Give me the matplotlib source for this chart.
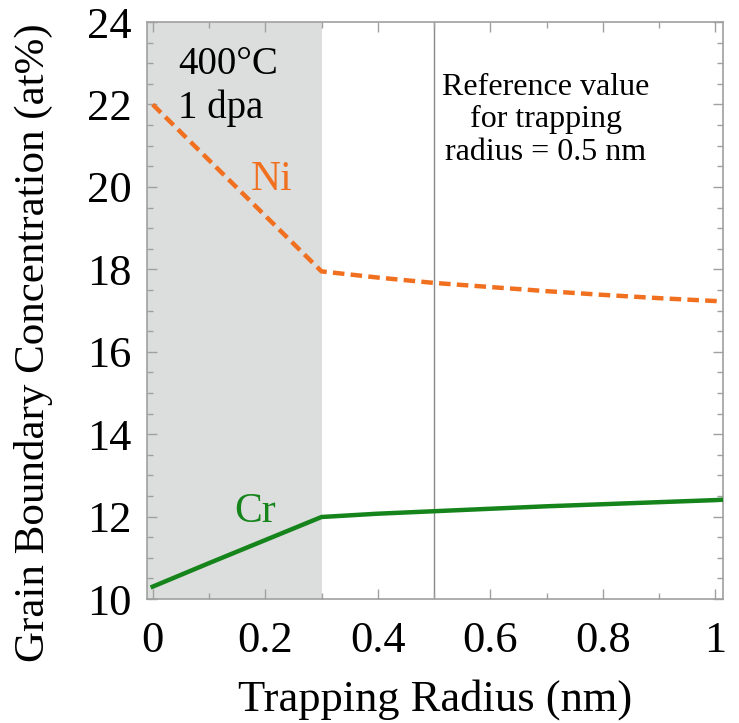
import matplotlib
matplotlib.use("Agg")
import matplotlib.pyplot as plt
from matplotlib.ticker import MultipleLocator, FuncFormatter

plt.rcParams['font.family'] = ['Liberation Serif', 'DejaVu Serif']

# trapping radius (nm) and grain boundary concentration (at%)
radius = [0.0, 0.1, 0.2, 0.3, 0.4, 0.5, 0.6, 0.7, 0.8, 0.9, 1.0, 1.013]
ni_conc = [22.0, 20.65, 19.3, 17.95, 17.8, 17.67, 17.57, 17.47, 17.38, 17.30, 17.23, 17.22]
cr_conc = [10.3, 10.87, 11.43, 11.99, 12.07, 12.13, 12.19, 12.25, 12.30, 12.35, 12.40, 12.41]

shade_end = 0.3
ref_radius = 0.5
ref_note = ['Reference value', 'for trapping', 'radius = 0.5 nm']

orange = '#f07020'
green = '#15841a'
frame = '#a0a0a0'

fig = plt.figure(figsize=(7.39, 7.23), dpi=100)
ax = fig.add_axes([0.199, 0.1715, 0.779, 0.798])

ax.axvspan(-0.02, shade_end, color='#dcdddd', lw=0, zorder=0)
ax.axvline(ref_radius, color='#888888', lw=1.0, zorder=1)

ax.plot(radius, ni_conc, color=orange, lw=3.2, dashes=(2.6, 1.4), zorder=3)
ax.plot(radius, cr_conc, color=green, lw=3.2, zorder=3)

ax.set_xlim(-0.01, 1.013)
ax.set_ylim(10, 24)

ax.xaxis.set_major_locator(MultipleLocator(0.2))
ax.xaxis.set_minor_locator(MultipleLocator(0.1))
ax.yaxis.set_major_locator(MultipleLocator(2))
ax.yaxis.set_minor_locator(MultipleLocator(0.5))
ax.xaxis.set_major_formatter(FuncFormatter(lambda v, p: f"{v:g}"))

ax.tick_params(which='both', direction='in', top=True, right=True, color=frame, width=1)
ax.tick_params(which='major', length=7, labelsize=32)
ax.tick_params(axis='y', which='major', pad=11)
ax.tick_params(axis='x', which='major', pad=16)
ax.tick_params(which='minor', length=4)
for s in ax.spines.values():
    s.set_color(frame)
    s.set_linewidth(1.2)

ax.set_xlabel('Trapping Radius (nm)', fontsize=32)
ax.xaxis.set_label_coords(0.5, -0.138)
ax.set_ylabel('Grain Boundary Concentration (at%)', fontsize=31)
ax.yaxis.set_label_coords(-0.163, 0.445)

ax.text(0.045, 22.74, '400°C', fontsize=28, ha='left', va='baseline')
ax.text(0.045, 21.67, '1 dpa', fontsize=28, ha='left', va='baseline')
ax.text(0.212, 19.92, 'Ni', fontsize=30, color=orange, ha='center', va='baseline')
ax.text(0.182, 11.86, 'Cr', fontsize=30, color=green, ha='center', va='baseline')
for line, y in zip(ref_note, [22.23, 21.45, 20.65]):
    ax.text(0.699, y, line, fontsize=23, ha='center', va='baseline')

fig.savefig('out.png', dpi=100)
